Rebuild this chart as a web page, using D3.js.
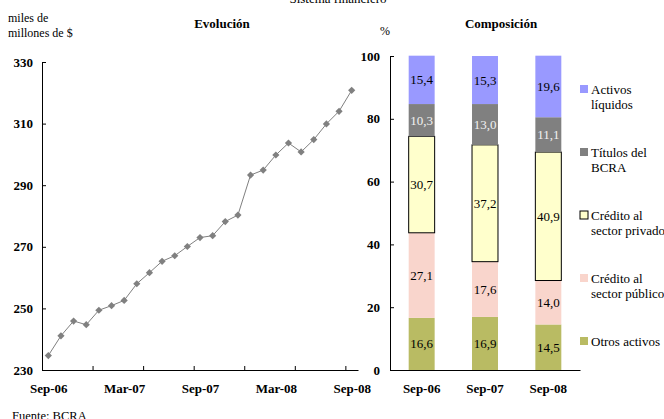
<!DOCTYPE html>
<html>
<head>
<meta charset="utf-8">
<script src="https://cdn.jsdelivr.net/npm/d3@7"></script>
<style>
  body { margin: 0; background: #fff; }
  text { font-family: "Liberation Serif", "Times New Roman", serif; }
</style>
</head>
<body>
<div id="chart"></div>
<script>
// Evolución: monthly series, Sep-06 .. Sep-08
const months = ["Sep-06","Oct-06","Nov-06","Dic-06","Ene-07","Feb-07","Mar-07","Abr-07","May-07",
  "Jun-07","Jul-07","Ago-07","Sep-07","Oct-07","Nov-07","Dic-07","Ene-08","Feb-08","Mar-08",
  "Abr-08","May-08","Jun-08","Jul-08","Ago-08","Sep-08"];
const totalValues = [234.7, 241.1, 245.9, 244.7, 249.4, 250.9, 252.6, 258.0, 261.6, 265.3, 267.1,
  270.1, 273.0, 273.6, 278.2, 280.3, 293.3, 294.9, 299.8, 303.7, 300.8, 304.8, 309.9, 314.0, 320.8];
const lineTicks = [230, 250, 270, 290, 310, 330];

// Composición: stacked shares
const barCategories = ["Sep-06", "Sep-07", "Sep-08"];
const seriesKeys = ["Otros activos", "Crédito al sector público", "Crédito al sector privado",
  "Títulos del BCRA", "Activos líquidos"];
const otrosActivos = [16.6, 16.9, 14.5];
const creditoPublico = [27.1, 17.6, 14.0];
const creditoPrivado = [30.7, 37.2, 40.9];
const titulosBcra = [10.3, 13.0, 11.1];
const activosLiquidos = [15.4, 15.3, 19.6];
const barTicks = [0, 20, 40, 60, 80, 100];

const colors = {
  "Otros activos": "#b9bb63",
  "Crédito al sector público": "#f9d5cc",
  "Crédito al sector privado": "#ffffcc",
  "Títulos del BCRA": "#808080",
  "Activos líquidos": "#9999ff"
};
const legendLines = {
  "Activos líquidos": ["Activos", "líquidos"],
  "Títulos del BCRA": ["Títulos del", "BCRA"],
  "Crédito al sector privado": ["Crédito al", "sector privado"],
  "Crédito al sector público": ["Crédito al", "sector público"],
  "Otros activos": ["Otros activos"]
};

const width = 664, height = 419;
const svg = d3.select("#chart").append("svg")
  .attr("width", width)
  .attr("height", height);

// titles and notes
svg.append("text").attr("x", 338).attr("y", 3).attr("text-anchor", "middle")
  .style("font-size", "13px").text("Sistema financiero");
svg.append("text").attr("x", 222).attr("y", 28).attr("text-anchor", "middle")
  .style("font-size", "13px").style("font-weight", "bold").text("Evolución");
svg.append("text").attr("x", 501).attr("y", 28).attr("text-anchor", "middle")
  .style("font-size", "13px").style("font-weight", "bold").text("Composición");
svg.append("text").attr("x", 8).attr("y", 22).style("font-size", "12px").text("miles de");
svg.append("text").attr("x", 8).attr("y", 37).style("font-size", "12px").text("millones de $");
svg.append("text").attr("x", 380).attr("y", 35).style("font-size", "12px").text("%");
svg.append("text").attr("x", 12).attr("y", 420).style("font-size", "12.5px").text("Fuente: BCRA");

// ---- line chart ----
const xl = d3.scaleLinear().domain([0, months.length]).range([42, 358]);
const yl = d3.scaleLinear().domain([230, 330]).range([370, 62]);

const yAxisL = svg.append("g")
  .attr("transform", "translate(42,0)")
  .call(d3.axisLeft(yl).tickValues(lineTicks).tickSize(-4).tickSizeOuter(0).tickPadding(9));

const xAxisL = svg.append("g")
  .attr("transform", "translate(0,370)")
  .call(d3.axisBottom(xl).tickValues(d3.range(0, months.length, 4)).tickSize(-4)
    .tickSizeOuter(0).tickFormat(""));

const xLabelsL = svg.append("g")
  .attr("transform", "translate(0,370)")
  .call(d3.axisBottom(xl).tickValues(d3.range(0, months.length, 6).map(i => i + 0.5))
    .tickSize(0).tickPadding(14).tickFormat(d => months[Math.floor(d)]));
xLabelsL.select(".domain").remove();

const line = d3.line()
  .x((d, i) => xl(i + 0.5))
  .y(d => yl(d));

svg.append("path")
  .datum(totalValues)
  .attr("fill", "none")
  .attr("stroke", "#808080")
  .attr("stroke-width", 1)
  .attr("d", line);

svg.selectAll("path.marker")
  .data(totalValues)
  .enter()
  .append("path")
  .attr("class", "marker")
  .attr("d", d3.symbol(d3.symbolSquare, 26))
  .attr("transform", (d, i) => `translate(${xl(i + 0.5)},${yl(d)}) rotate(45)`)
  .attr("fill", "#808080");

// ---- stacked bars ----
const rows = barCategories.map((c, i) => ({
  cat: c,
  "Otros activos": otrosActivos[i],
  "Crédito al sector público": creditoPublico[i],
  "Crédito al sector privado": creditoPrivado[i],
  "Títulos del BCRA": titulosBcra[i],
  "Activos líquidos": activosLiquidos[i]
}));
const stacked = d3.stack().keys(seriesKeys)(rows);

const xb = d3.scaleBand().domain(barCategories).range([390, 580])
  .paddingInner(0.59).paddingOuter(0.295);
const yb = d3.scaleLinear().domain([0, 100]).range([370, 56]);

const layers = svg.selectAll("g.layer")
  .data(stacked)
  .enter()
  .append("g")
  .attr("class", "layer");

layers.selectAll("rect")
  .data(s => s.map(d => ({ key: s.key, d })))
  .enter()
  .append("rect")
  .attr("x", p => xb(p.d.data.cat))
  .attr("y", p => yb(p.d[1]))
  .attr("width", xb.bandwidth())
  .attr("height", p => yb(p.d[0]) - yb(p.d[1]))
  .attr("fill", p => colors[p.key])
  .attr("stroke", p => p.key === "Crédito al sector privado" ? "#000" : "none")
  .attr("stroke-width", 1);

layers.selectAll("text")
  .data(s => s.map(d => ({ key: s.key, d })))
  .enter()
  .append("text")
  .attr("x", p => xb(p.d.data.cat) + xb.bandwidth() / 2)
  .attr("y", p => yb((p.d[0] + p.d[1]) / 2) + 4.5)
  .attr("text-anchor", "middle")
  .style("font-size", "13px")
  .style("fill", p => p.key === "Títulos del BCRA" ? "#f2f2f2" : "#000")
  .text(p => d3.format(".1f")(p.d.data[p.key]).replace(".", ","));

svg.append("g")
  .attr("transform", "translate(390,0)")
  .call(d3.axisLeft(yb).tickValues(barTicks).tickSize(-4).tickSizeOuter(0).tickPadding(10));

svg.append("g")
  .attr("transform", "translate(0,370)")
  .call(d3.axisBottom(xb).tickSize(0).tickSizeOuter(0).tickPadding(14));

// axis styling
svg.selectAll(".tick text")
  .style("font-family", "'Liberation Serif', 'Times New Roman', serif")
  .style("font-size", "13px")
  .style("font-weight", "bold")
  .attr("fill", "#000");
svg.selectAll(".domain, .tick line").attr("stroke", "#000");

// legend
const legendOrder = seriesKeys.slice().reverse();
const legend = svg.append("g").attr("transform", "translate(580,85)");
legendOrder.forEach((k, i) => {
  const lg = legend.append("g").attr("transform", `translate(0,${i * 63})`);
  lg.append("rect")
    .attr("width", 8)
    .attr("height", 8)
    .attr("fill", colors[k])
    .attr("stroke", k === "Crédito al sector privado" ? "#000" : "none");
  legendLines[k].forEach((t, j) => {
    lg.append("text")
      .attr("x", 11)
      .attr("y", 8.5 + j * 15)
      .style("font-size", "13px")
      .text(t);
  });
});
</script>
</body>
</html>
